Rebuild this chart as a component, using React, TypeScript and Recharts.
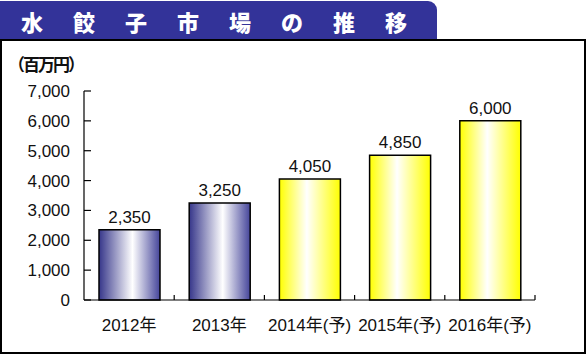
import { Bar, BarChart, Cell, LabelList, XAxis, YAxis } from "recharts";

const years = ["2012年", "2013年", "2014年(予)", "2015年(予)", "2016年(予)"];
const marketSize = [2350, 3250, 4050, 4850, 6000];
const isForecast = [false, false, true, true, true];
const yTicks = [0, 1000, 2000, 3000, 4000, 5000, 6000, 7000];

const FONT = "'Liberation Sans', 'Noto Sans CJK JP', sans-serif";

const data = years.map((year, i) => ({
  year,
  value: marketSize[i],
  forecast: isForecast[i],
}));

const fmt = (v: number) => v.toLocaleString("en-US");

function YearTick(props: any) {
  const { x, y, payload } = props;
  const half = payload?.offset ?? 45;
  return (
    <g>
      <text
        x={x}
        y={y + 31}
        textAnchor="middle"
        fontSize={17}
        fontFamily={FONT}
        fill="#111"
      >
        {payload.value}
      </text>
      <line x1={x + half} x2={x + half} y1={y} y2={y - 5} stroke="#000" strokeWidth={1.2} />
    </g>
  );
}

export default function App() {
  return (
    <div style={{ position: "absolute", left: 0, top: 0, width: 587, height: 355, background: "#fff" }}>
      <div
        style={{
          position: "absolute",
          left: 0,
          top: 1,
          width: 437,
          height: 40,
          background: "#333399",
          borderTopRightRadius: 9,
        }}
      />
      <div
        style={{
          position: "absolute",
          left: 21,
          top: 8,
          color: "#fff",
          fontFamily: "'Noto Sans CJK JP', sans-serif",
          fontWeight: 900,
          fontSize: 22,
          letterSpacing: 30,
          whiteSpace: "nowrap",
          lineHeight: "26px",
        }}
      >
        水餃子市場の推移
      </div>
      <div
        style={{
          position: "absolute",
          left: 0,
          top: 39,
          width: 586,
          height: 315,
          border: "2px solid #000",
          boxSizing: "border-box",
        }}
      />
      <div
        style={{
          position: "absolute",
          left: 8,
          top: 54,
          fontFamily: "'Noto Sans CJK JP', sans-serif",
          fontWeight: "bold",
          fontSize: 17,
          lineHeight: "20px",
          letterSpacing: -2,
          color: "#111",
        }}
      >
        （百万円）
      </div>
      <div style={{ position: "absolute", left: 0, top: 0 }}>
        <BarChart
          width={587}
          height={355}
          data={data}
          margin={{ top: 91, right: 52, bottom: 15, left: 0 }}
        >
          <defs>
            <linearGradient id="navyGrad" x1="0" y1="0" x2="1" y2="0">
              <stop offset="0%" stopColor="#36368a" />
              <stop offset="55%" stopColor="#ffffff" />
              <stop offset="100%" stopColor="#45459a" />
            </linearGradient>
            <linearGradient id="yellowGrad" x1="0" y1="0" x2="1" y2="0">
              <stop offset="0%" stopColor="#ffff00" />
              <stop offset="45%" stopColor="#ffffff" />
              <stop offset="100%" stopColor="#ffff00" />
            </linearGradient>
          </defs>
          <XAxis
            dataKey="year"
            height={40}
            axisLine={{ stroke: "#000", strokeWidth: 1.2 }}
            tickLine={false}
            tickSize={0}
            tickMargin={0}
            interval={0}
            tick={<YearTick />}
          />
          <YAxis
            width={84}
            domain={[0, 7000]}
            ticks={yTicks}
            interval={0}
            tickFormatter={fmt}
            axisLine={{ stroke: "#000", strokeWidth: 1.2 }}
            tickLine={{ stroke: "#000", strokeWidth: 1.2 }}
            tickSize={-7}
            tickMargin={21}
            tick={{ fontSize: 17, fontFamily: FONT, fill: "#111" }}
          />
          <Bar dataKey="value" barSize={61} stroke="#000" strokeWidth={1.5} isAnimationActive={false}>
            {data.map((d) => (
              <Cell key={d.year} fill={d.forecast ? "url(#yellowGrad)" : "url(#navyGrad)"} />
            ))}
            <LabelList
              dataKey="value"
              position="top"
              offset={7}
              formatter={(v: any) => fmt(Number(v))}
              style={{ fontSize: 17, fontFamily: FONT, fill: "#111" }}
            />
          </Bar>
        </BarChart>
      </div>
    </div>
  );
}
